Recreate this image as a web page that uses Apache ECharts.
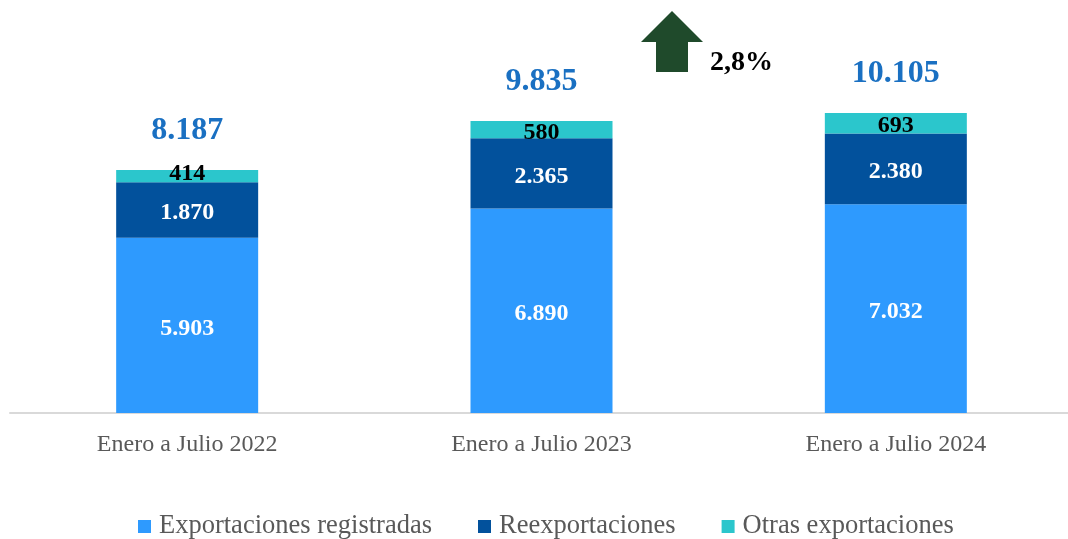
<!DOCTYPE html>
<html>
<head>
<meta charset="utf-8">
<script src="https://cdn.jsdelivr.net/npm/echarts@6/dist/echarts.min.js"></script>
<style>
  html, body { margin: 0; padding: 0; background: #fff; overflow: hidden; }
  #chart { width: 1080px; height: 539px; }
</style>
</head>
<body>
<div id="chart"></div>
<script>
// datos del grafico (millones US$)
var categorias = ['Enero a Julio 2022', 'Enero a Julio 2023', 'Enero a Julio 2024'];
var registradas = [5903, 6890, 7032];
var reexportaciones = [1870, 2365, 2380];
var otras = [414, 580, 693];
var totales = [8187, 9835, 10105];
var variacion = '2,8%';

var serif = '"Liberation Serif", "Times New Roman", serif';

function fmt(v) {
  return String(v).replace(/\B(?=(\d{3})+(?!\d))/g, '.');
}

function segLabel(color, size, offsetY) {
  return {
    show: true,
    position: 'inside',
    offset: [0, offsetY || 0],
    color: color,
    fontFamily: serif,
    fontWeight: 'bold',
    fontSize: size,
    formatter: function (p) { return fmt(p.value); }
  };
}

// el segmento mas delgado lleva la etiqueta un poco mas arriba
var otrasItems = otras.map(function (v, i) {
  return i === 0 ? { value: v, label: { offset: [0, -2] } } : v;
});

var chart = echarts.init(document.getElementById('chart'));
var option = {
  animation: false,
  grid: { left: 10, right: 7, top: 27, bottom: 126, containLabel: false },
  legend: {
    top: 508,
    left: 133,
    itemWidth: 13,
    itemHeight: 13,
    itemGap: 46,
    icon: 'rect',
    textStyle: { fontFamily: serif, fontSize: 26.5, color: '#595959', padding: [0, 0, 0, 3] },
    data: ['Exportaciones registradas', 'Reexportaciones', 'Otras exportaciones']
  },
  xAxis: {
    type: 'category',
    data: categorias,
    axisLine: { lineStyle: { color: '#d9d9d9', width: 2 } },
    axisTick: { show: false },
    axisLabel: { fontFamily: serif, fontSize: 24, color: '#595959', margin: 20 }
  },
  yAxis: {
    type: 'value',
    min: 0,
    max: 13000,
    show: false,
    splitLine: { show: false }
  },
  series: [
    {
      name: 'Exportaciones registradas',
      type: 'bar',
      stack: 'total',
      barWidth: 142,
      itemStyle: { color: '#2e9afe' },
      label: segLabel('#ffffff', 24, 3),
      data: registradas
    },
    {
      name: 'Reexportaciones',
      type: 'bar',
      stack: 'total',
      itemStyle: { color: '#02519c' },
      label: segLabel('#ffffff', 24, 3),
      data: reexportaciones
    },
    {
      name: 'Otras exportaciones',
      type: 'bar',
      stack: 'total',
      itemStyle: { color: '#2bc6cc' },
      label: segLabel('#000000', 24, 3),
      data: otrasItems
    },
    {
      name: 'Total',
      type: 'scatter',
      symbolSize: 0,
      silent: true,
      itemStyle: { opacity: 1 },
      label: {
        show: true,
        position: 'top',
        distance: 23,
        color: '#1a70c2',
        fontFamily: serif,
        fontWeight: 'bold',
        fontSize: 32,
        formatter: function (p) { return fmt(p.value); }
      },
      data: totales
    }
  ],
  graphic: [
    {
      type: 'polygon',
      shape: {
        points: [[672, 11], [703, 42], [688, 42], [688, 72], [656, 72], [656, 42], [641, 42]]
      },
      style: { fill: '#1f4a2b' }
    },
    {
      type: 'text',
      left: 710,
      top: 49,
      style: {
        text: variacion,
        font: 'bold 28px ' + serif,
        fill: '#000000'
      }
    }
  ]
};
chart.setOption(option);
</script>
</body>
</html>
